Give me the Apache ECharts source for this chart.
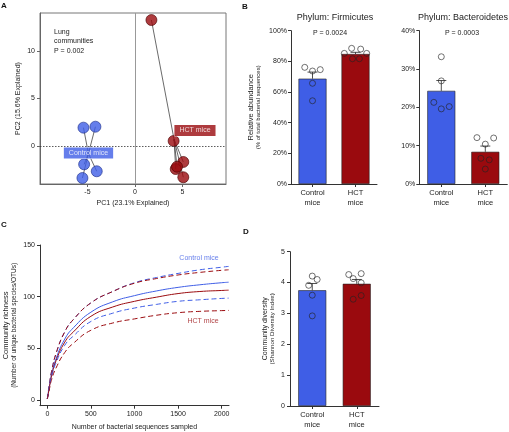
<!DOCTYPE html>
<html><head><meta charset="utf-8">
<script src="https://cdn.jsdelivr.net/npm/echarts@6/dist/echarts.min.js"></script>
<style>html,body{margin:0;padding:0;background:#fff}#c{width:509px;height:432px}</style>
</head><body><div id="c"></div>
<script>
// ---------- Panel A: PCA ----------
const ctrlPC1 = [-5.42, -4.16, -5.35, -4.02, -5.53];
const ctrlPC2 = [1.93, 2.03, -1.93, -2.66, -3.37];
const hctPC1 = [1.74, 4.08, 5.1, 4.3, 4.44, 5.1];
const hctPC2 = [13.26, 0.53, -1.68, -2.42, -2.18, -3.29];
const pcaLabels = ['Control mice', 'HCT mice'];
const pcaLabelPC1 = [-4.89, 6.33];
const pcaLabelPC2 = [-0.74, 1.63];

// ---------- Panel B ----------
const groups = ['Control\nmice', 'HCT\nmice'];
const firmMean = [68.7, 84.8];
const firmErrTop = [73.0, 85.9];
const firmCtrl = [76.1, 73.7, 74.6, 65.7, 54.3];
const firmCtrlJit = [-0.18, 0, 0.18, 0, 0];
const firmHct = [88.5, 88.0, 85.2, 81.7, 81.7, 85.2];
const firmHctJit = [-0.09, 0.12, -0.26, -0.07, 0.09, 0.26];

const bactMean = [24.3, 8.4];
const bactErrTop = [27.0, 9.9];
const bactCtrl = [33.2, 26.9, 21.3, 19.6, 20.2];
const bactCtrlJit = [0, 0, -0.17, 0, 0.18];
const bactHct = [12.1, 12.0, 10.4, 6.7, 6.3, 3.9];
const bactHctJit = [-0.19, 0.19, 0, -0.1, 0.09, 0];

// ---------- Panel C: rarefaction ----------
const seqDepth = [0, 25, 50, 100, 200, 300, 500, 750, 1000, 1250, 1500, 1750, 2000, 2080];
const ctrlMean = [1, 14, 25, 40, 59, 70, 85, 95, 101, 105.5, 109, 111.5, 113.5, 114];
const hctMean  = [1, 13, 24, 38, 56, 66, 81, 90, 95.5, 99.5, 103, 105, 106, 106.3];
const ctrlHi   = [1, 16, 28, 45, 66, 78, 94, 105, 113.5, 118.5, 122.5, 126, 128.5, 129.3];
const hctHi    = [1, 16, 28, 45, 66, 78, 94, 105, 113, 117.5, 121, 123.5, 125.5, 126];
const ctrlLo   = [1, 13, 23, 36, 53, 62, 76, 84, 89, 92.5, 95.5, 97, 98.3, 98.6];
const hctLo    = [1, 11, 20, 31, 46, 55, 67.5, 74.5, 78.5, 82, 84.5, 85.8, 86.5, 86.7];

// ---------- Panel D ----------
const shanMean = [3.75, 3.96];
const shanErrTop = [3.97, 4.10];
const shanCtrl = [4.21, 4.10, 3.91, 3.59, 2.92];
const shanCtrlJit = [0, 0.11, -0.08, 0, 0];
const shanHct = [4.26, 4.29, 4.13, 3.99, 3.46, 3.58];
const shanHctJit = [-0.18, 0.1, -0.08, 0.1, -0.08, 0.1];

const BLUE = '#3f5ee6', RED = '#9a0a0e';
const FONT = 'Liberation Sans, Arial, sans-serif';
const TXT = '#222';

const chart = echarts.init(document.getElementById('c'));

function mean(a){return a.reduce((s,v)=>s+v,0)/a.length;}
const axLine = {show:true, onZero:false, lineStyle:{color:'#333', width:1}};
const axTick = {show:true, length:3, lineStyle:{color:'#333', width:1}};
const lab = {fontSize:7, color:TXT, fontFamily:FONT};

function catAxis(grid){
  return {type:'category', gridIndex:grid, data:groups, position:'bottom',
    axisLine:axLine, axisTick:Object.assign({alignWithLabel:true}, axTick),
    axisLabel:Object.assign({}, lab, {fontSize:7.5, lineHeight:10, margin:4}), splitLine:{show:false}};
}
function hidAxis(grid){
  return {type:'value', gridIndex:grid, min:-0.5, max:1.5, show:false, position:'bottom', axisLine:{onZero:false}};
}
function barSeries(xi, yi, means){
  return {type:'bar', xAxisIndex:xi, yAxisIndex:yi, barWidth:28, z:2,
    data: means.map((v,i)=>({value:v, itemStyle:{color: i===0?BLUE:RED, borderColor:'#222', borderWidth:0.6}}))};
}
function errSeries(xi, yi, means, tops){
  return {type:'custom', xAxisIndex:xi, yAxisIndex:yi, z:3,
    data: means.map((m,i)=>[i, m, tops[i]]),
    renderItem:(params, api)=>{
      const x=api.value(0), m=api.value(1), t=api.value(2);
      const p0=api.coord([x,m]), p1=api.coord([x,t]);
      return {type:'group', children:[
        {type:'line', shape:{x1:p0[0],y1:p0[1],x2:p1[0],y2:p1[1]}, style:{stroke:'#222',lineWidth:0.8}},
        {type:'line', shape:{x1:p1[0]-5,y1:p1[1],x2:p1[0]+5,y2:p1[1]}, style:{stroke:'#222',lineWidth:0.8}}
      ]};
    }};
}
function dotSeries(xi, yi, vals, jit, cat){
  return {type:'scatter', xAxisIndex:xi, yAxisIndex:yi, z:4, symbol:'circle', symbolSize:6,
    itemStyle:{color:'rgba(0,0,0,0)', borderColor:'#222', borderWidth:0.8},
    data: vals.map((v,i)=>[cat+jit[i], v])};
}
function yName(a, b, gap, s1, s2){
  return {name:'{a|'+a+'}\n{b|'+b+'}', nameLocation:'middle', nameGap:gap,
    nameTextStyle:{fontFamily:FONT, color:TXT, rich:{a:{fontSize:s1, fontFamily:FONT, color:TXT, lineHeight:s1+1}, b:{fontSize:s2, fontFamily:FONT, color:TXT, lineHeight:s2+1}}}};
}
function curve(vals, color, dashed){
  return {type:'line', xAxisIndex:5, yAxisIndex:3, smooth:true, showSymbol:false,
    lineStyle:{color:color, width:1, type: dashed ? [5,3] : 'solid'},
    data: seqDepth.map((x,i)=>[x, vals[i]])};
}

const ctrlC = [mean(ctrlPC1), mean(ctrlPC2)];
const hctC = [mean(hctPC1), mean(hctPC2)];
const spokes = [];
ctrlPC1.forEach((x,i)=>spokes.push({coords:[ctrlC,[x,ctrlPC2[i]]]}));
hctPC1.forEach((x,i)=>spokes.push({coords:[hctC,[x,hctPC2[i]]]}));

const gridBase = {outerBoundsMode:'none', containLabel:false};
const aLine = {show:true, onZero:false, lineStyle:{color:'#666'}};
const option = {
  animation:false,
  textStyle:{fontFamily:FONT},
  grid:[
    Object.assign({left:40, top:13, width:186, height:171, show:true, borderColor:'#777', borderWidth:1}, gridBase),
    Object.assign({left:291, top:30.7, width:86, height:153.3}, gridBase),
    Object.assign({left:419.3, top:30.7, width:88, height:153.3}, gridBase),
    Object.assign({left:40, top:245, width:189, height:160.7}, gridBase),
    Object.assign({left:290, top:251.7, width:89, height:154.3}, gridBase)
  ],
  xAxis:[
    {type:'value', gridIndex:0, min:-10, max:9.6, name:'PC1 (23.1% Explained)', nameLocation:'middle', nameGap:16,
      nameTextStyle:{fontSize:7, color:TXT, fontFamily:FONT},
      axisLine:aLine, axisTick:{show:true, length:3, lineStyle:{color:'#666'}, customValues:[-5,0,5]},
      axisLabel:Object.assign({customValues:[-5,0,5], margin:5}, lab), splitLine:{show:false}},
    catAxis(1), hidAxis(1),
    catAxis(2), hidAxis(2),
    {type:'value', gridIndex:3, min:-84, max:2084, name:'Number of bacterial sequences sampled', nameLocation:'middle', nameGap:18,
      nameTextStyle:{fontSize:7, color:TXT, fontFamily:FONT},
      axisLine:axLine, axisTick:Object.assign({customValues:[0,500,1000,1500,2000]}, axTick),
      axisLabel:Object.assign({customValues:[0,500,1000,1500,2000], margin:5, formatter:v=>String(v)}, lab), splitLine:{show:false}},
    catAxis(4), hidAxis(4)
  ],
  yAxis:[
    {type:'value', gridIndex:0, min:-4, max:14, name:'PC2 (15.6% Explained)', nameLocation:'middle', nameGap:18,
      nameTextStyle:{fontSize:7, color:TXT, fontFamily:FONT},
      axisLine:aLine, axisTick:{show:true, length:3, lineStyle:{color:'#666'}, customValues:[0,5,10]},
      axisLabel:Object.assign({customValues:[0,5,10], margin:5}, lab), splitLine:{show:false}},
    Object.assign({type:'value', gridIndex:1, min:0, max:100, interval:20,
      axisLine:axLine, axisTick:axTick, axisLabel:Object.assign({formatter:'{value}%', margin:4}, lab), splitLine:{show:false}},
      yName('Relative abundance','(% of total bacterial sequences)', 29, 7.5, 6)),
    {type:'value', gridIndex:2, min:0, max:40, interval:10,
      axisLine:axLine, axisTick:axTick, axisLabel:Object.assign({formatter:'{value}%', margin:4}, lab), splitLine:{show:false}},
    Object.assign({type:'value', gridIndex:3, min:-5.5, max:150,
      axisLine:axLine, axisTick:Object.assign({customValues:[0,50,100,150]}, axTick),
      axisLabel:Object.assign({customValues:[0,50,100,150], margin:5}, lab), splitLine:{show:false}},
      yName('Community richness','(Number of unique bacterial species/OTUs)', 22, 7.5, 6.5)),
    Object.assign({type:'value', gridIndex:4, min:0, max:5, interval:1,
      axisLine:axLine, axisTick:axTick, axisLabel:Object.assign({margin:5}, lab), splitLine:{show:false}},
      yName('Community diversity','(Shannon Diversity Index)', 14, 7, 6.2))
  ],
  series:[
    // A
    {type:'lines', coordinateSystem:'cartesian2d', xAxisIndex:0, yAxisIndex:0, z:2,
      lineStyle:{color:'#444', width:0.8, opacity:1}, data:spokes, silent:true},
    {type:'scatter', xAxisIndex:0, yAxisIndex:0, z:1, symbolSize:0, data:[],
      markLine:{silent:true, symbol:'none', label:{show:false},
        data:[{xAxis:0, lineStyle:{color:'#999', width:1, type:'solid'}},
              {yAxis:0, lineStyle:{color:'#333', width:0.8, type:[1.5,1.5]}}]}},
    {type:'scatter', xAxisIndex:0, yAxisIndex:0, z:3, symbolSize:11,
      itemStyle:{color:BLUE, borderColor:'#1e2f8a', borderWidth:0.8},
      data: ctrlPC1.map((x,i)=>[x, ctrlPC2[i]])},
    {type:'scatter', xAxisIndex:0, yAxisIndex:0, z:3, symbolSize:11,
      itemStyle:{color:RED, borderColor:'#4a0000', borderWidth:0.8},
      data: hctPC1.map((x,i)=>[x, hctPC2[i]])},
    {type:'scatter', xAxisIndex:0, yAxisIndex:0, z:5, symbolSize:1, itemStyle:{color:'rgba(0,0,0,0)'},
      label:{show:true, position:'inside', formatter:'{b}', color:'#fff', fontSize:7, fontFamily:FONT, padding:[2,5,2,5]},
      data: pcaLabels.map((n,i)=>({name:n, value:[pcaLabelPC1[i], pcaLabelPC2[i]],
        label:{backgroundColor: i===0?BLUE:RED, borderColor:'#fff', borderWidth:0.5}}))},
    // B1
    barSeries(1, 1, firmMean), errSeries(2, 1, firmMean, firmErrTop),
    dotSeries(2, 1, firmCtrl, firmCtrlJit, 0), dotSeries(2, 1, firmHct, firmHctJit, 1),
    // B2
    barSeries(3, 2, bactMean), errSeries(4, 2, bactMean, bactErrTop),
    dotSeries(4, 2, bactCtrl, bactCtrlJit, 0), dotSeries(4, 2, bactHct, bactHctJit, 1),
    // C
    curve(ctrlHi, BLUE, true), curve(hctHi, RED, true),
    curve(ctrlMean, BLUE, false), curve(hctMean, RED, false),
    curve(ctrlLo, BLUE, true), curve(hctLo, RED, true),
    {type:'scatter', xAxisIndex:5, yAxisIndex:3, symbolSize:1, itemStyle:{color:'rgba(0,0,0,0)'},
      label:{show:true, position:'inside', formatter:'{b}', fontSize:7, fontFamily:FONT},
      data:[{name:'Control mice', value:[1740,137], label:{color:BLUE}}, {name:'HCT mice', value:[1786,76.7], label:{color:RED}}]},
    // D
    barSeries(6, 4, shanMean), errSeries(7, 4, shanMean, shanErrTop),
    dotSeries(7, 4, shanCtrl, shanCtrlJit, 0), dotSeries(7, 4, shanHct, shanHctJit, 1)
  ],
  graphic:[
    {type:'text', left:1, top:2, style:{text:'A', font:'bold 8px '+FONT, fill:'#111'}},
    {type:'text', left:242, top:3, style:{text:'B', font:'bold 8px '+FONT, fill:'#111'}},
    {type:'text', left:1, top:221, style:{text:'C', font:'bold 8px '+FONT, fill:'#111'}},
    {type:'text', left:243, top:228, style:{text:'D', font:'bold 8px '+FONT, fill:'#111'}},
    {type:'text', left:54, top:27, style:{text:'Lung\ncommunities\nP = 0.002', font:'7px '+FONT, fill:TXT, lineHeight:9.5}},
    {type:'text', x:335, y:18, style:{text:'Phylum: Firmicutes', font:'9px '+FONT, fill:TXT, textAlign:'center', textVerticalAlign:'middle'}},
    {type:'text', x:463, y:18, style:{text:'Phylum: Bacteroidetes', font:'9px '+FONT, fill:TXT, textAlign:'center', textVerticalAlign:'middle'}},
    {type:'text', x:330, y:33, style:{text:'P = 0.0024', font:'7px '+FONT, fill:TXT, textAlign:'center', textVerticalAlign:'middle'}},
    {type:'text', x:462, y:33, style:{text:'P = 0.0003', font:'7px '+FONT, fill:TXT, textAlign:'center', textVerticalAlign:'middle'}}
  ]
};
chart.setOption(option);
</script></body></html>
